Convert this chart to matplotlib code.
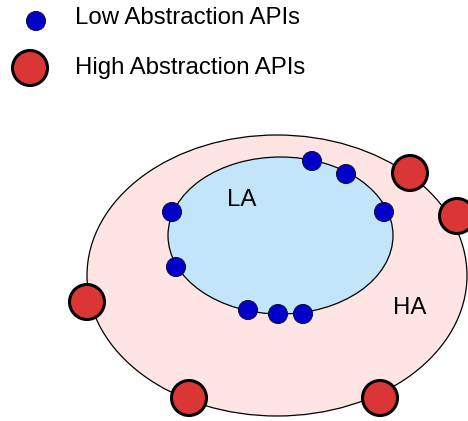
import matplotlib
matplotlib.use("Agg")
import matplotlib.pyplot as plt
from matplotlib.patches import Ellipse, Circle

plt.rcParams['font.family'] = ['Liberation Sans', 'DejaVu Sans']

# Diagram data (pixel-space coordinates of the reference)
region_names = ["HA", "LA"]
outer_center = (277, 275.5)
outer_size = (380, 281)
inner_center = (280.5, 235.5)
inner_size = (225, 157)

low_x = [312, 346, 384, 172, 176, 248, 278, 303]
low_y = [161, 174, 212, 212, 267, 310, 314, 314]
high_x = [410, 457, 87, 189, 380]
high_y = [173, 216, 302, 398, 398]

legend_labels = ["Low Abstraction APIs", "High Abstraction APIs"]

W, H = 468, 421
fig = plt.figure(figsize=(W / 100, H / 100), dpi=100)
ax = fig.add_axes([0, 0, 1, 1])
ax.set_xlim(0, W)
ax.set_ylim(H, 0)
ax.set_aspect('equal')
ax.axis('off')

BLUE = '#0000c8'
RED = '#da3636'
FS = 17.3

ax.add_patch(Ellipse(outer_center, *outer_size, facecolor='#ffe4e4', edgecolor='black', lw=0.9, zorder=1))
ax.add_patch(Ellipse(inner_center, *inner_size, facecolor='#c3e5fa', edgecolor='black', lw=0.9, zorder=2))

for x, y in zip(low_x, low_y):
    ax.add_patch(Circle((x, y), 9.5, facecolor=BLUE, edgecolor='#10104a', lw=0.8, zorder=4))
for x, y in zip(high_x, high_y):
    ax.add_patch(Circle((x, y), 17.5, facecolor=RED, edgecolor='black', lw=2.2, zorder=4))

ax.text(242, 200, region_names[1], fontsize=FS, ha='center', va='center', zorder=5)
ax.text(410, 308, region_names[0], fontsize=FS, ha='center', va='center', zorder=5)

# legend
ax.add_patch(Circle((36, 21), 9.5, facecolor=BLUE, edgecolor='#10104a', lw=0.8, zorder=4))
ax.add_patch(Circle((30, 68), 17.5, facecolor=RED, edgecolor='black', lw=2.2, zorder=4))
ax.text(75, 18, legend_labels[0], fontsize=FS, ha='left', va='center')
ax.text(75, 68, legend_labels[1], fontsize=FS, ha='left', va='center')

fig.savefig('out.png', dpi=100)
